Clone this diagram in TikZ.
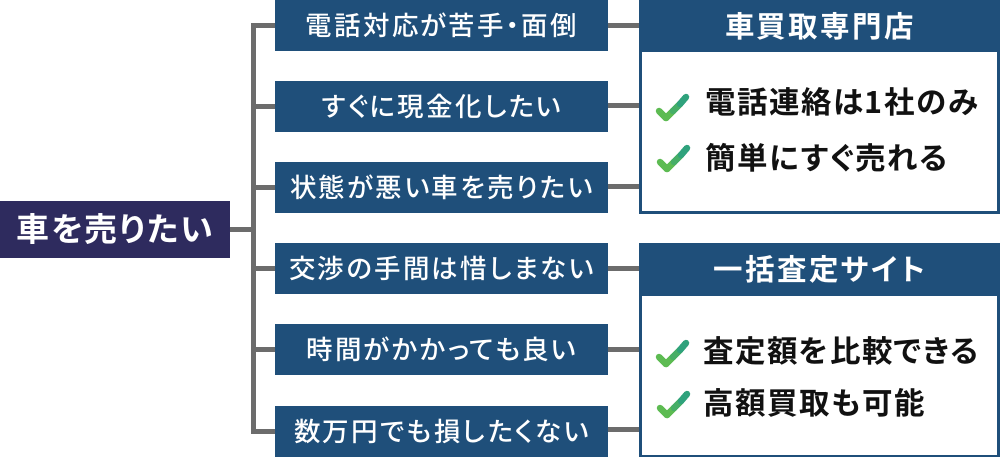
\documentclass[tikz,border=0pt]{standalone}
\usepackage{fontspec}
\setmainfont{Noto Sans CJK JP}[BoldFont={Noto Sans CJK JP Bold},RawFeature={+palt}]
\newfontfamily\medfont{Noto Sans CJK JP Medium}[RawFeature={+palt}]
\newfontfamily\bldfont{Noto Sans CJK JP Bold}[RawFeature={+palt}]
\definecolor{navy}{HTML}{1F4F7A}
\definecolor{rootc}{HTML}{2E2B5E}
\definecolor{linec}{HTML}{6C6C6C}
\definecolor{inkc}{HTML}{111111}
\definecolor{chka}{HTML}{2FA27C}
\definecolor{chkb}{HTML}{5DBB52}
\newcommand{\midfont}{\fontsize{26.5pt}{30pt}\selectfont\medfont\addfontfeature{LetterSpace=8.5}}
\tikzset{
  x=1pt,y=-1pt,
  rootbox/.style={fill=rootc,text=white,inner sep=0,minimum width=230pt,minimum height=57pt,font=\fontsize{33pt}{37pt}\selectfont\bldfont\addfontfeature{LetterSpace=5.5}},
  midbox/.style={fill=navy,text=white,inner sep=0,minimum width=333pt,minimum height=51pt,font=\midfont},
  headbox/.style={fill=navy,text=white,inner sep=0,minimum width=361pt,minimum height=52pt,font=\fontsize{29.5pt}{33pt}\selectfont\bldfont\addfontfeature{LetterSpace=8}},
  bodybox/.style={draw=navy,line width=3pt,fill=white,inner sep=0,minimum width=358pt},
  itemtext/.style={text=inkc,anchor=west,inner sep=0,font=\fontsize{30.5pt}{35pt}\selectfont\bldfont\addfontfeature{LetterSpace=5}},
  conn/.style={draw=linec,line width=5pt},
  checkmark/.style={draw=chkb,line width=6.5pt,line cap=round,line join=round},
}
\newcommand{\chk}[2]{%
  \draw[checkmark] (#1-24,#2+7) -- (#1-17,#2+14);
  \draw[checkmark,draw=chkb] (#1-17,#2+14) -- (#1-10,#2+7);
  \draw[checkmark,draw=chka!50!chkb] (#1-10,#2+7) -- (#1-3,#2);
  \draw[checkmark,draw=chka] (#1-3,#2) -- (#1+3,#2-7);
}
\begin{document}
\begin{tikzpicture}
\useasboundingbox (0,0) rectangle (1000,457);
\fill[white] (0,0) rectangle (1000,457);
% boxes
\node[rootbox] (root) at (115,229.5) {車を売りたい};
\node[midbox] (m1) at (441.5,25.5) {電話対応が苦手・面倒};
\node[midbox] (m2) at (441.5,106.5) {すぐに現金化したい};
\node[midbox] (m3) at (441.5,187.5) {状態が悪い車を売りたい};
\node[midbox] (m4) at (441.5,268.5) {交渉の手間は惜しまない};
\node[midbox] (m5) at (441.5,349.5) {時間がかかっても良い};
\node[midbox] (m6) at (441.5,431.5) {数万円でも損したくない};
\node[bodybox,minimum height=162pt] (b1) at (819.5,131.5) {};
\node[bodybox,minimum height=162pt] (b2) at (819.5,375) {};
\node[headbox] (h1) at (819.5,26) {車買取専門店};
\node[headbox] (h2) at (819.5,269) {一括査定サイト};
% connectors
\coordinate (ttop) at (253,25.5);
\coordinate (tbot) at (253,431.5);
\coordinate (tmid) at (253,229.5);
\draw[conn] (root.east) -- (tmid);
\draw[conn,line cap=rect] (ttop) -- (tbot);
\foreach \n in {m1,m2,m3,m4,m5,m6}{\draw[conn] (\n.west) -- (\n.west -| ttop);}
\foreach \n/\y in {m1/25.5,m2/106,m3/186.5}{\draw[conn] (\n.east |- 0,\y) -- (b1.west |- 0,\y);}
\foreach \n/\y in {m4/268.5,m5/349,m6/429}{\draw[conn] (\n.east |- 0,\y) -- (b2.west |- 0,\y);}
% items
\node[itemtext] (i1) at (705,102) {電話連絡は1社のみ};
\node[itemtext] (i2) at (705,158) {簡単にすぐ売れる};
\node[itemtext] (i3) at (703,351) {査定額を比較できる};
\node[itemtext] (i4) at (703,403) {高額買取も可能};
\chk{683}{104}
\chk{684}{155}
\chk{683}{350}
\chk{684}{401}
\end{tikzpicture}
\end{document}
